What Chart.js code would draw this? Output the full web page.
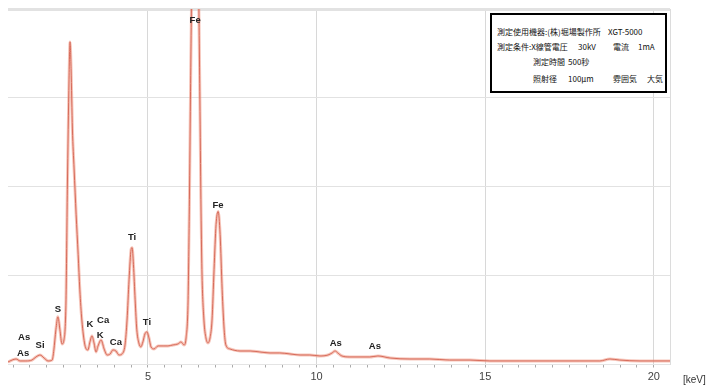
<!DOCTYPE html>
<html>
<head>
<meta charset="utf-8">
<script src="https://cdn.jsdelivr.net/npm/chart.js"></script>
<style>
body { margin: 0; background: #fff; }
#wrap { position: relative; width: 712px; height: 388px; }
#info { position: absolute; left: 490px; top: 13px; width: 173px; height: 76px; border: 2px solid #000; background: #fff;
  font-family: "Noto Sans CJK JP", sans-serif; font-size: 8px; line-height: 10px; color: #111; }
#info span { position: absolute; white-space: nowrap; }
#unit { position: absolute; left: 683px; top: 374px; font: 10px "Liberation Sans", sans-serif; color: #333; }
</style>
</head>
<body>
<div id="wrap">
  <canvas id="chart" width="712" height="388"></canvas>
  <div id="info">
    <span style="left:5px;top:12px">測定使用機器:(株)堀場製作所</span>
    <span style="left:116px;top:12px">XGT-5000</span>
    <span style="left:5px;top:27px">測定条件:X線管電圧</span>
    <span style="left:86px;top:27px">30kV</span>
    <span style="left:121px;top:27px">電流</span>
    <span style="left:146px;top:27px">1mA</span>
    <span style="left:41px;top:42px">測定時間</span>
    <span style="left:76px;top:42px">500秒</span>
    <span style="left:41px;top:59px">照射径</span>
    <span style="left:76px;top:59px">100μm</span>
    <span style="left:121px;top:59px">雰囲気</span>
    <span style="left:155px;top:59px">大気</span>
  </div>
  <div id="unit">[keV]</div>
</div>
<script>
// spectrum (energy in keV, intensity in arbitrary counts)
const energy = [0.85, 0.97, 1.09, 1.21, 1.38, 1.56, 1.68, 1.80, 1.92, 2.04, 2.16, 2.21, 2.27, 2.33, 2.39, 2.45, 2.51,
  2.57, 2.61, 2.66, 2.69, 2.72, 2.76, 2.81, 2.87, 2.93, 2.98, 3.04, 3.13, 3.22, 3.28, 3.34, 3.40, 3.46, 3.52, 3.61,
  3.70, 3.79, 3.88, 3.96, 4.05, 4.14, 4.23, 4.32, 4.38, 4.44, 4.50, 4.53, 4.57, 4.62, 4.67, 4.73, 4.79, 4.85, 4.91,
  4.97, 5.03, 5.09, 5.18, 5.30, 5.45, 5.59, 5.74, 5.89, 5.98, 6.07, 6.13, 6.19, 6.23, 6.26, 6.30, 6.40, 6.50, 6.54,
  6.57, 6.60, 6.66, 6.72, 6.78, 6.84, 6.90, 6.96, 7.02, 7.08, 7.14, 7.20, 7.26, 7.31, 7.43, 7.73, 8.03, 8.32, 8.62,
  8.91, 9.21, 9.51, 9.80, 10.10, 10.34, 10.46, 10.55, 10.63, 10.75, 10.99, 11.29, 11.58, 11.82, 12.18, 12.77, 13.36,
  13.95, 14.55, 15.14, 16.03, 16.92, 17.81, 18.40, 18.70, 18.99, 19.59, 20.48];
const counts = [28, 50, 62, 40, 40, 50, 85, 107, 73, 40, 50, 164, 390, 536, 390, 231, 277,
  728, 1970, 3210, 3630, 3330, 2650, 2200, 1690, 1240, 840, 500, 220, 164, 254, 322, 243, 141, 209, 277,
  175, 107, 119, 164, 152, 107, 119, 220, 500, 954, 1293, 1315, 1123, 728, 390, 243, 198, 254, 344,
  367, 299, 198, 175, 209, 209, 209, 220, 231, 254, 220, 299, 728, 1857, 2985, 4300, 5600, 4300, 2985,
  1857, 1067, 500, 299, 243, 299, 500, 1067, 1575, 1722, 1462, 841, 390, 220, 175, 152, 152, 141, 130,
  130, 119, 107, 107, 96, 107, 130, 152, 130, 96, 85, 85, 85, 96, 73, 62, 62,
  50, 50, 40, 40, 40, 40, 40, 62, 50, 40, 40];

// peak labels and where they sit
const peakNames = ["As", "As", "Si", "S", "K", "Ca", "K", "Ca", "Ti", "Ti", "Fe", "Fe", "As", "As"];
const peakE = [1.33, 1.30, 1.80, 2.33, 3.28, 3.67, 3.58, 4.05, 4.53, 4.97, 6.40, 7.08, 10.57, 11.73];
const peakY = [310, 130, 220, 615, 457, 491, 333, 254, 1428, 469, 3870, 1790, 243, 209];

const xTicks = [5, 10, 15, 20];

const points = energy.map((e, i) => ({ x: e, y: counts[i] }));

const peakLabels = {
  id: "peakLabels",
  afterDatasetsDraw(chart) {
    const ctx = chart.ctx;
    const xs = chart.scales.x, ys = chart.scales.y;
    ctx.save();
    ctx.font = "bold 9.5px 'Liberation Sans', Arial, sans-serif";
    ctx.fillStyle = "#222";
    ctx.textAlign = "center";
    ctx.textBaseline = "middle";
    peakNames.forEach((n, i) => {
      ctx.fillText(n, xs.getPixelForValue(peakE[i]), ys.getPixelForValue(peakY[i]));
    });
    ctx.restore();
  }
};

new Chart(document.getElementById("chart"), {
  type: "line",
  data: {
    datasets: [{
      data: points,
      borderColor: "rgba(238,150,130,0.55)",
      borderWidth: 3,
      pointRadius: 0,
      cubicInterpolationMode: "monotone"
    }, {
      data: points,
      borderColor: "#b9392c",
      borderWidth: 1,
      pointRadius: 0,
      cubicInterpolationMode: "monotone"
    }]
  },
  options: {
    responsive: false,
    animation: false,
    layout: { padding: { left: 8, right: 42, top: 9, bottom: 0 } },
    plugins: { legend: { display: false }, tooltip: { enabled: false } },
    scales: {
      x: {
        type: "linear",
        min: 0.85,
        max: 20.48,
        afterBuildTicks(axis) {
          const t = [];
          for (let v = 1; v <= 20; v += 0.5) t.push({ value: v });
          axis.ticks = t;
        },
        afterFit(axis) { axis.height = 23.5; },
        ticks: {
          autoSkip: false,
          maxRotation: 0,
          padding: 3,
          color: "#444",
          font: { family: "Liberation Sans", size: 11 },
          callback: v => xTicks.includes(v) ? String(v) : ""
        },
        grid: {
          color: c => c.tick && xTicks.includes(c.tick.value) ? "#d8d8d8" : "rgba(0,0,0,0)",
          tickColor: "#aaa",
          tickLength: 3
        },
        border: { display: true, color: "#e4e4e4" }
      },
      y: {
        position: "right",
        min: 0,
        max: 4000,
        ticks: { display: false, stepSize: 1000 },
        grid: {
          drawTicks: false,
          color: "#e2e2e2",
          lineWidth: c => c.tick && c.tick.value === 4000 ? 3 : 1
        },
        border: { display: true, color: "#dcdcdc" }
      }
    }
  },
  plugins: [peakLabels]
});
</script>
</body>
</html>
